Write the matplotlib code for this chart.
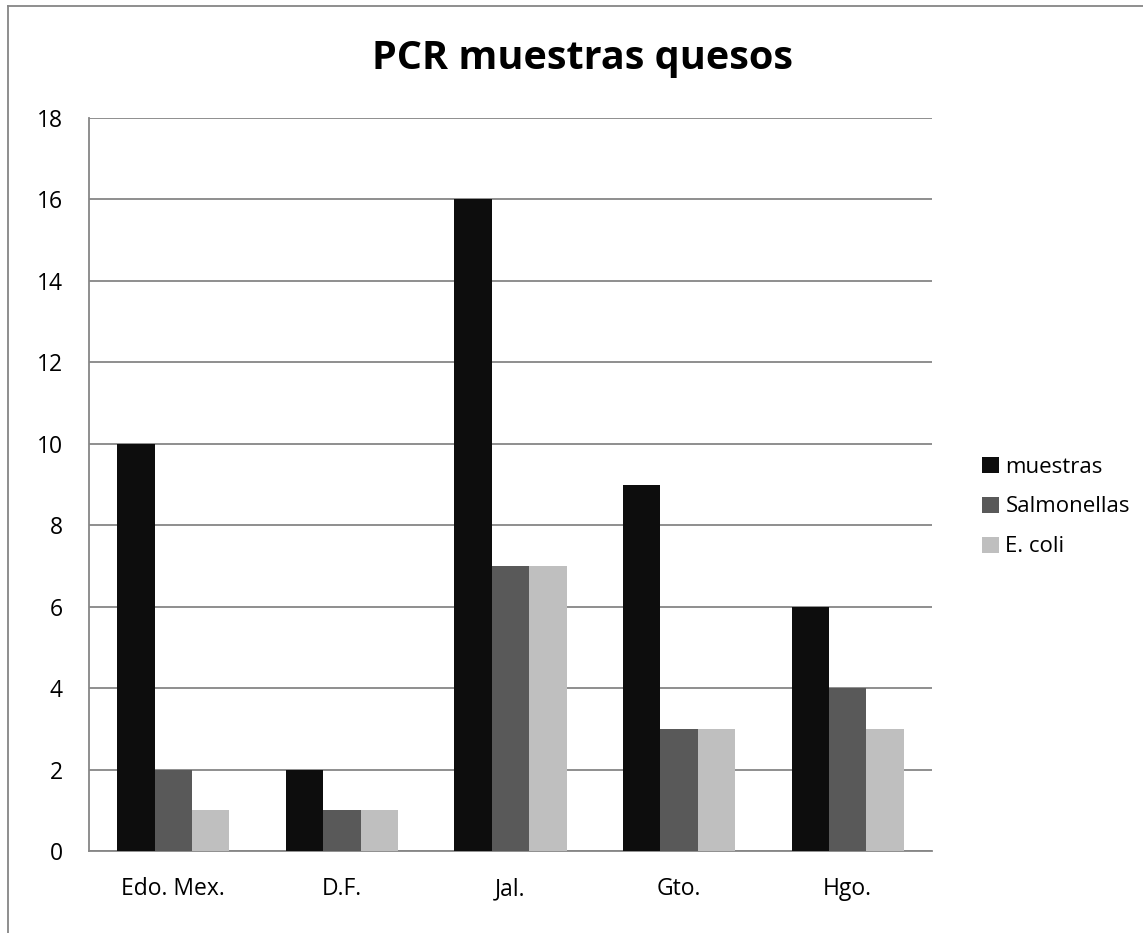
import matplotlib.pyplot as plt
import numpy as np
from matplotlib.lines import Line2D

categories = ['Edo. Mex.', 'D.F.', 'Jal.', 'Gto.', 'Hgo.']
muestras = [10, 2, 16, 9, 6]
salmonellas = [2, 1, 7, 3, 4]
e_coli = [1, 1, 7, 3, 3]
series_names = ['muestras', 'Salmonellas', 'E. coli']
series_colors = ['#0d0d0d', '#595959', '#bfbfbf']
yticks = list(range(0, 19, 2))


def main():
    plt.rcParams['font.family'] = ['Open Sans', 'DejaVu Sans']
    fig = plt.figure(figsize=(11.43, 9.33), dpi=100)
    W, H = 1143, 933
    ax = fig.add_axes([89 / W, 1 - 851 / H, (932 - 89) / W, (851 - 118) / H])

    x = np.arange(len(categories))
    bw = 0.222
    for i, (vals, name, col) in enumerate(zip([muestras, salmonellas, e_coli],
                                              series_names, series_colors)):
        ax.bar(x + (i - 1) * bw, vals, bw, color=col, label=name, zorder=3)

    ax.set_xlim(-0.5, len(categories) - 0.5)
    ax.set_ylim(0, 18)
    ax.set_yticks(yticks)
    ax.set_xticks(x)
    ax.set_xticklabels(categories)
    ax.tick_params(axis='both', length=0, labelsize=16.5)
    ax.tick_params(axis='y', pad=19)
    ax.tick_params(axis='x', pad=19)
    ax.yaxis.grid(True, color='#868686', linewidth=1.3, zorder=0)
    for side in ['top', 'right']:
        ax.spines[side].set_visible(False)
    for side in ['left', 'bottom']:
        ax.spines[side].set_color('#868686')
        ax.spines[side].set_linewidth(1.3)

    fig.text(583 / W, 1 - 58 / H, 'PCR muestras quesos', ha='center', va='center',
             fontsize=28.5, fontweight='bold')

    fig.legend(loc='center left', bbox_to_anchor=(962 / W, 1 - 507 / H),
               frameon=False, fontsize=16, handlelength=0.75, handleheight=0.75,
               handletextpad=0.3, labelspacing=0.85)

    # chart border (top and left visible)
    fig.add_artist(Line2D([8 / W, 8 / W], [0, 1 - 6 / H], transform=fig.transFigure,
                          color='#868686', linewidth=1.3))
    fig.add_artist(Line2D([8 / W, 1], [1 - 6 / H, 1 - 6 / H], transform=fig.transFigure,
                          color='#868686', linewidth=1.3))

    fig.savefig('out.png', dpi=100)


if "__main__" == __name__:
    main()
